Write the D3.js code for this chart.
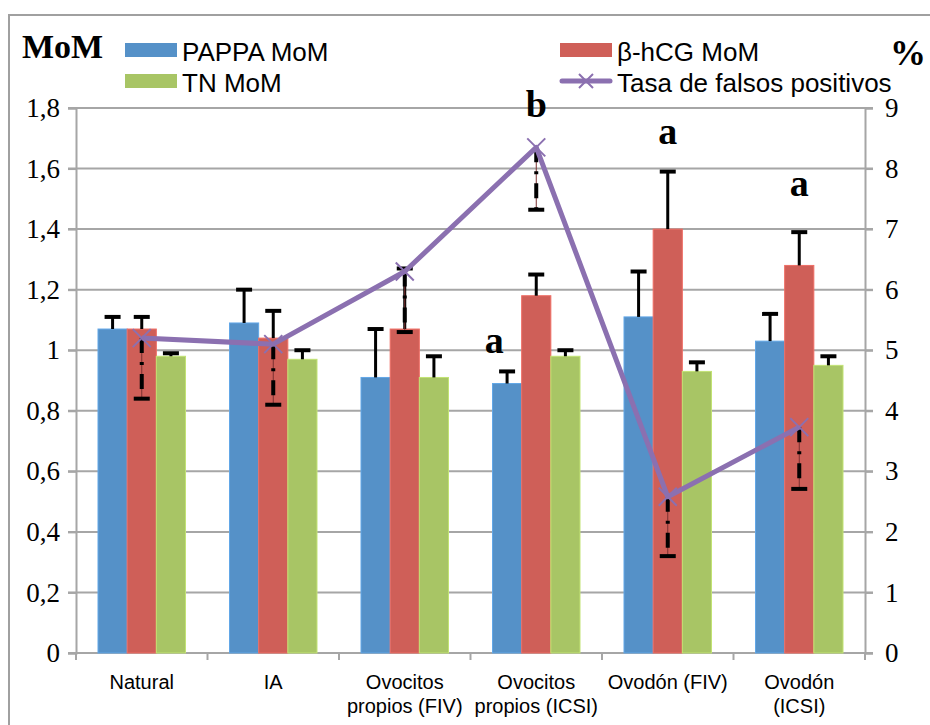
<!DOCTYPE html>
<html>
<head>
<meta charset="utf-8">
<script src="https://cdn.jsdelivr.net/npm/d3@7"></script>
<style>
  body { margin: 0; background: #fff; }
  svg { display: block; }
</style>
</head>
<body>
<svg width="930" height="725"></svg>
<script>
// data
var categories = ["Natural", "IA", "Ovocitos\npropios (FIV)", "Ovocitos\npropios (ICSI)", "Ovodón (FIV)", "Ovodón\n(ICSI)"];
var seriesNames = ["PAPPA MoM", "β-hCG MoM", "TN MoM"];
var pappa = [1.07, 1.09, 0.91, 0.89, 1.11, 1.03];
var pappaErr = [1.11, 1.20, 1.07, 0.93, 1.26, 1.12];
var hcg = [1.07, 1.04, 1.07, 1.18, 1.40, 1.28];
var hcgErr = [1.11, 1.13, 1.27, 1.25, 1.59, 1.39];
var tn = [0.98, 0.97, 0.91, 0.98, 0.93, 0.95];
var tnErr = [0.99, 1.00, 0.98, 1.00, 0.96, 0.98];
var falsosPos = [5.2, 5.1, 6.3, 8.35, 2.58, 3.73];
var falsosLow = [4.2, 4.1, 5.3, 7.32, 1.6, 2.71];
var yTicks = [0, 0.2, 0.4, 0.6, 0.8, 1, 1.2, 1.4, 1.6, 1.8];
var y2Ticks = [0, 1, 2, 3, 4, 5, 6, 7, 8, 9];
// significance letters: [category index, MoM height, letter]
var letters = [[3, 1.77, "b"], [4, 1.68, "a"], [5, 1.51, "a"], [3, 0.99, "a"]];
var letterDx = [0, 0, 0, -42];

var colors = ["#5591C8", "#CF5F58", "#A8C565"];
var purple = "#8B70B0";
var grid = "#A6A6A6";

var svg = d3.select("svg");
var pLeft = 76, pRight = 865, pTop = 108, pBottom = 653;

var x = d3.scaleBand().domain(d3.range(categories.length)).range([pLeft, pRight]);
var x1 = d3.scaleBand().domain(d3.range(3)).range([22, x.bandwidth() - 22]);
var y = d3.scaleLinear().domain([0, 1.8]).range([pBottom, pTop]);
var y2 = d3.scaleLinear().domain([0, 9]).range([pBottom, pTop]);

// outer frame
svg.append("path")
    .attr("d", "M9,725 V15 H930")
    .attr("fill", "none")
    .attr("stroke", "#A0A0A0")
    .attr("stroke-width", 2);

// gridlines
svg.append("g").selectAll("line")
    .data(yTicks.slice(1))
    .enter().append("line")
    .attr("x1", pLeft - 8).attr("x2", pRight + 8)
    .attr("y1", function(d) { return y(d); })
    .attr("y2", function(d) { return y(d); })
    .attr("stroke", grid)
    .attr("stroke-width", 2);

// left axis
var yAxis = svg.append("g")
    .attr("transform", "translate(" + pLeft + ",0)")
    .call(d3.axisLeft(y).tickValues(yTicks).tickSize(8).tickPadding(8)
        .tickFormat(function(d) { return String(d).replace(".", ","); }));
yAxis.select(".domain").attr("stroke", grid).attr("stroke-width", 2);
yAxis.selectAll(".tick line").attr("stroke", grid).attr("stroke-width", 2);
yAxis.selectAll("text").attr("font-family", "Liberation Serif, serif").attr("font-size", 27).attr("fill", "#000");

// right axis
var y2Axis = svg.append("g")
    .attr("transform", "translate(" + pRight + ",0)")
    .call(d3.axisRight(y2).tickValues(y2Ticks).tickSize(8).tickPadding(12));
y2Axis.select(".domain").attr("stroke", grid).attr("stroke-width", 2);
y2Axis.selectAll(".tick line").attr("stroke", grid).attr("stroke-width", 2);
y2Axis.selectAll("text").attr("font-family", "Liberation Serif, serif").attr("font-size", 27).attr("fill", "#000");

// bottom axis
svg.append("line")
    .attr("x1", pLeft - 8).attr("x2", pRight + 8)
    .attr("y1", pBottom).attr("y2", pBottom)
    .attr("stroke", grid).attr("stroke-width", 2);
svg.append("g").selectAll("line")
    .data(d3.range(categories.length + 1))
    .enter().append("line")
    .attr("x1", function(i) { return pLeft + i * x.bandwidth(); })
    .attr("x2", function(i) { return pLeft + i * x.bandwidth(); })
    .attr("y1", pBottom).attr("y2", pBottom + 7)
    .attr("stroke", grid).attr("stroke-width", 2);

var xl = svg.append("g").selectAll("text")
    .data(categories)
    .enter().append("text")
    .attr("x", function(d, i) { return x(i) + x.bandwidth() / 2; })
    .attr("y", 689)
    .attr("text-anchor", "middle")
    .attr("font-family", "Liberation Sans, Arial, sans-serif")
    .attr("font-size", 20);
xl.each(function(d) {
    var t = d3.select(this);
    d.split("\n").forEach(function(line, k) {
        t.append("tspan")
            .attr("x", t.attr("x"))
            .attr("dy", k ? 24 : 0)
            .text(line);
    });
});

// bars
var allValues = [pappa, hcg, tn];
var allErr = [pappaErr, hcgErr, tnErr];
allValues.forEach(function(vals, s) {
    svg.append("g").selectAll("rect")
        .data(vals)
        .enter().append("rect")
        .attr("x", function(d, i) { return x(i) + x1(s); })
        .attr("width", x1.bandwidth())
        .attr("y", function(d) { return y(d); })
        .attr("height", function(d) { return pBottom - y(d); })
        .attr("fill", colors[s])
        .attr("stroke", d3.color(colors[s]).brighter(0.4))
        .attr("stroke-width", 1);
});

// bar error bars (upper)
allErr.forEach(function(errs, s) {
    var g = svg.append("g");
    errs.forEach(function(e, i) {
        var cx = x(i) + x1(s) + x1.bandwidth() / 2;
        g.append("line")
            .attr("x1", cx).attr("x2", cx)
            .attr("y1", y(allValues[s][i])).attr("y2", y(e))
            .attr("stroke", "#000").attr("stroke-width", 3);
        g.append("line")
            .attr("x1", cx - 8).attr("x2", cx + 8)
            .attr("y1", y(e)).attr("y2", y(e))
            .attr("stroke", "#000").attr("stroke-width", 4);
    });
});

// line error bars (minus, dash-dot)
var lx = function(i) { return x(i) + x.bandwidth() / 2; };
var eg = svg.append("g");
falsosPos.forEach(function(v, i) {
    eg.append("line")
        .attr("x1", lx(i)).attr("x2", lx(i))
        .attr("y1", y2(v)).attr("y2", y2(falsosLow[i]))
        .attr("stroke", "#7A3030").attr("stroke-width", 1);
    eg.append("line")
        .attr("x1", lx(i)).attr("x2", lx(i))
        .attr("y1", y2(v)).attr("y2", y2(falsosLow[i]))
        .attr("stroke", "#000").attr("stroke-width", 4)
        .attr("stroke-dasharray", "15,9,3,9");
    eg.append("line")
        .attr("x1", lx(i) - 8).attr("x2", lx(i) + 8)
        .attr("y1", y2(falsosLow[i])).attr("y2", y2(falsosLow[i]))
        .attr("stroke", "#000").attr("stroke-width", 4);
});

// line series
svg.append("path")
    .datum(falsosPos)
    .attr("fill", "none")
    .attr("stroke", purple)
    .attr("stroke-width", 5)
    .attr("stroke-linejoin", "round")
    .attr("d", d3.line().x(function(d, i) { return lx(i); }).y(function(d) { return y2(d); }));

function cross(g, cx, cy, r) {
    g.append("path")
        .attr("d", "M" + (cx - r) + "," + (cy - r) + "L" + (cx + r) + "," + (cy + r) +
                   "M" + (cx - r) + "," + (cy + r) + "L" + (cx + r) + "," + (cy - r))
        .attr("stroke", purple).attr("stroke-width", 2).attr("fill", "none");
}
var mg = svg.append("g");
falsosPos.forEach(function(v, i) { cross(mg, lx(i), y2(v), 9); });

// significance letters
svg.append("g").selectAll("text")
    .data(letters)
    .enter().append("text")
    .attr("x", function(d, k) { return lx(d[0]) + letterDx[k]; })
    .attr("y", function(d) { return y(d[1]); })
    .attr("text-anchor", "middle")
    .attr("font-family", "Liberation Serif, serif")
    .attr("font-weight", "bold")
    .attr("font-size", 38)
    .text(function(d) { return d[2]; });

// axis titles
svg.append("text")
    .attr("x", 22).attr("y", 58)
    .attr("font-family", "Liberation Serif, serif")
    .attr("font-weight", "bold")
    .attr("font-size", 34)
    .text("MoM");
svg.append("text")
    .attr("x", 908).attr("y", 65)
    .attr("text-anchor", "middle")
    .attr("font-family", "Liberation Serif, serif")
    .attr("font-weight", "bold")
    .attr("font-size", 36)
    .text("%");

// legend
var legend = [
    {name: seriesNames[0], type: "rect", color: colors[0], x: 125, y: 50},
    {name: seriesNames[2], type: "rect", color: colors[2], x: 125, y: 81},
    {name: seriesNames[1], type: "rect", color: colors[1], x: 560, y: 50},
    {name: "Tasa de falsos positivos", type: "line", color: purple, x: 560, y: 81}
];
var lg = svg.append("g");
legend.forEach(function(d) {
    if (d.type === "rect") {
        lg.append("rect")
            .attr("x", d.x).attr("y", d.y - 7)
            .attr("width", 52).attr("height", 14)
            .attr("fill", d.color);
    } else {
        lg.append("line")
            .attr("x1", d.x + 2).attr("x2", d.x + 50)
            .attr("y1", d.y).attr("y2", d.y)
            .attr("stroke", d.color).attr("stroke-width", 5)
            .attr("stroke-linecap", "round");
        cross(lg, d.x + 26, d.y, 7);
    }
    lg.append("text")
        .attr("x", d.x + 57).attr("y", d.y + 11)
        .attr("font-family", "Liberation Sans, Arial, sans-serif")
        .attr("font-size", 26)
        .text(d.name);
});
</script>
</body>
</html>
